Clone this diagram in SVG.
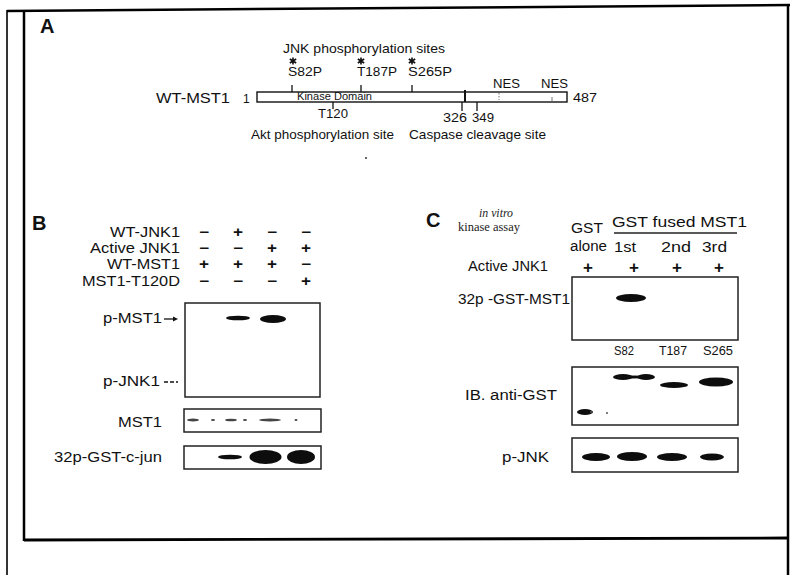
<svg xmlns="http://www.w3.org/2000/svg" width="799" height="575" viewBox="0 0 799 575">
<defs>
<style>
.t{font-family:"Liberation Sans",Arial,sans-serif;fill:#111}
.s{font-family:"Liberation Serif","Times New Roman",serif;fill:#222}
.lbl{font-size:14px}
.sm{font-size:13.5px}
.hd{font-size:20px;font-weight:bold}
.sym{font-size:14px;font-weight:bold;text-anchor:middle}
.box{fill:none;stroke:#222;stroke-width:1.5}
.frm{stroke:#000;fill:none}
.tk{stroke:#111;stroke-width:1.3}
.ast{stroke:#111;stroke-width:1.6;fill:none}
.band{fill:#111;filter:url(#blur)}
.faint{fill:#444;filter:url(#blur)}
</style>
<filter id="blur" x="-20%" y="-50%" width="140%" height="200%"><feGaussianBlur stdDeviation="0.7"/></filter>
<path id="star" d="M0,-3.5 V3.5 M-3.2,-2 L3.2,2 M-3.2,2 L3.2,-2"/>
</defs>
<rect width="799" height="575" fill="#fff"/>

<g id="frame">
<line class="frm" x1="7" y1="11" x2="790" y2="5" stroke-width="2.5"/>
<line class="frm" x1="7" y1="10" x2="7" y2="575" stroke-width="1.6"/>
<line class="frm" x1="24" y1="12" x2="24" y2="541" stroke-width="2.5"/>
<line class="frm" x1="24" y1="540" x2="788" y2="538" stroke-width="2.8"/>
<line class="frm" x1="788" y1="5" x2="788" y2="575" stroke-width="2.5"/>
</g>

<g id="panelA">
<text class="t hd" x="40" y="33">A</text>
<text class="t sm" x="283" y="53" textLength="162" lengthAdjust="spacingAndGlyphs">JNK phosphorylation sites</text>
<use href="#star" class="ast" x="293" y="61"/>
<use href="#star" class="ast" x="361" y="61"/>
<use href="#star" class="ast" x="412" y="61"/>
<text class="t sm" x="288" y="76" textLength="34" lengthAdjust="spacingAndGlyphs">S82P</text>
<text class="t sm" x="357" y="76" textLength="40" lengthAdjust="spacingAndGlyphs">T187P</text>
<text class="t sm" x="408" y="76" textLength="44" lengthAdjust="spacingAndGlyphs">S265P</text>
<text class="t sm" x="493" y="88" textLength="27" lengthAdjust="spacingAndGlyphs">NES</text>
<text class="t sm" x="541" y="88" textLength="27" lengthAdjust="spacingAndGlyphs">NES</text>
<text class="t lbl" x="156" y="103" textLength="74" lengthAdjust="spacingAndGlyphs">WT-MST1</text>
<text class="t" x="243" y="103" font-size="12">1</text>
<text class="t sm" x="573" y="102" textLength="24" lengthAdjust="spacingAndGlyphs">487</text>
<rect x="257" y="92" width="310" height="10" fill="none" stroke="#111" stroke-width="1.4"/>
<text class="t" x="297" y="100" font-size="10" textLength="75" lengthAdjust="spacingAndGlyphs">Kinase Domain</text>
<line class="tk" x1="292" y1="85" x2="292" y2="92"/>
<line class="tk" x1="361" y1="85" x2="361" y2="92"/>
<line class="tk" x1="412" y1="85" x2="412" y2="92"/>
<line x1="465" y1="90" x2="465" y2="102" stroke="#111" stroke-width="2"/>
<line x1="499" y1="93" x2="499" y2="100" stroke="#777" stroke-width="1" stroke-dasharray="1.5,1.5"/>
<line x1="552" y1="97" x2="552" y2="101" stroke="#777" stroke-width="1"/>
<line class="tk" x1="333" y1="102" x2="333" y2="109"/>
<line class="tk" x1="462" y1="102" x2="462" y2="111"/>
<line class="tk" x1="477" y1="102" x2="477" y2="111"/>
<text class="t sm" x="318" y="118" textLength="30" lengthAdjust="spacingAndGlyphs">T120</text>
<text class="t sm" x="443" y="122" textLength="24" lengthAdjust="spacingAndGlyphs">326</text>
<text class="t sm" x="472" y="122" textLength="22" lengthAdjust="spacingAndGlyphs">349</text>
<text class="t sm" x="251" y="139" textLength="143" lengthAdjust="spacingAndGlyphs">Akt phosphorylation site</text>
<text class="t sm" x="409" y="139" textLength="137" lengthAdjust="spacingAndGlyphs">Caspase cleavage site</text>
<circle cx="366" cy="158" r="1" fill="#333"/>
</g>

<g id="panelB">
<text class="t hd" x="32" y="230" font-size="18">B</text>
<text class="t lbl" x="110" y="237" textLength="70" lengthAdjust="spacingAndGlyphs">WT-JNK1</text>
<text class="t lbl" x="90" y="253" textLength="90" lengthAdjust="spacingAndGlyphs">Active JNK1</text>
<text class="t lbl" x="107" y="269" textLength="73" lengthAdjust="spacingAndGlyphs">WT-MST1</text>
<text class="t lbl" x="82" y="286" textLength="98" lengthAdjust="spacingAndGlyphs">MST1-T120D</text>
<g class="t sym">
<text x="204" y="237" textLength="10" lengthAdjust="spacingAndGlyphs">−</text><text x="238" y="237" textLength="10" lengthAdjust="spacingAndGlyphs">+</text><text x="272" y="237" textLength="10" lengthAdjust="spacingAndGlyphs">−</text><text x="306" y="237" textLength="10" lengthAdjust="spacingAndGlyphs">−</text>
<text x="204" y="253" textLength="10" lengthAdjust="spacingAndGlyphs">−</text><text x="238" y="253" textLength="10" lengthAdjust="spacingAndGlyphs">−</text><text x="272" y="253" textLength="10" lengthAdjust="spacingAndGlyphs">+</text><text x="306" y="253" textLength="10" lengthAdjust="spacingAndGlyphs">+</text>
<text x="204" y="269" textLength="10" lengthAdjust="spacingAndGlyphs">+</text><text x="238" y="269" textLength="10" lengthAdjust="spacingAndGlyphs">+</text><text x="272" y="269" textLength="10" lengthAdjust="spacingAndGlyphs">+</text><text x="306" y="269" textLength="10" lengthAdjust="spacingAndGlyphs">−</text>
<text x="204" y="286" textLength="10" lengthAdjust="spacingAndGlyphs">−</text><text x="238" y="286" textLength="10" lengthAdjust="spacingAndGlyphs">−</text><text x="272" y="286" textLength="10" lengthAdjust="spacingAndGlyphs">−</text><text x="306" y="286" textLength="10" lengthAdjust="spacingAndGlyphs">+</text>
</g>
<rect class="box" x="185" y="303" width="135" height="94"/>
<ellipse class="band" cx="238" cy="318" rx="12" ry="2.3"/>
<ellipse class="band" cx="273" cy="319" rx="13" ry="4"/>
<text class="t lbl" x="103" y="323" textLength="59" lengthAdjust="spacingAndGlyphs">p-MST1</text>
<line x1="164" y1="319" x2="175" y2="319" stroke="#111" stroke-width="1.3"/>
<path d="M178,319 L173,316.5 L173,321.5 Z" fill="#111"/>
<text class="t lbl" x="103" y="386" textLength="57" lengthAdjust="spacingAndGlyphs">p-JNK1</text>
<line x1="164" y1="382" x2="178" y2="382" stroke="#111" stroke-width="1.3" stroke-dasharray="4,2"/>
<rect class="box" x="184" y="409" width="137" height="23"/>
<ellipse class="faint" cx="193" cy="420" rx="6" ry="1.5"/>
<ellipse class="faint" cx="213" cy="420" rx="2" ry="1"/>
<ellipse class="faint" cx="231" cy="420" rx="6" ry="1.3"/>
<ellipse class="faint" cx="245" cy="420" rx="2" ry="1"/>
<ellipse class="faint" cx="270" cy="420" rx="11" ry="1.5"/>
<ellipse class="faint" cx="296" cy="420" rx="1.5" ry="1"/>
<text class="t lbl" x="118" y="427" textLength="44" lengthAdjust="spacingAndGlyphs">MST1</text>
<rect class="box" x="184" y="446" width="137" height="23"/>
<ellipse class="band" cx="230" cy="457" rx="12" ry="2.3"/>
<ellipse class="band" cx="265.5" cy="457" rx="16" ry="7"/>
<ellipse class="band" cx="301" cy="457" rx="14" ry="7"/>
<text class="t lbl" x="54" y="462" textLength="108" lengthAdjust="spacingAndGlyphs">32p-GST-c-jun</text>
</g>

<g id="panelC">
<text class="t hd" x="426" y="227" font-size="18">C</text>
<text class="s" x="479" y="217" font-size="12" font-style="italic" textLength="34" lengthAdjust="spacingAndGlyphs">in vitro</text>
<text class="s" x="458" y="231" font-size="12" textLength="62" lengthAdjust="spacingAndGlyphs">kinase assay</text>
<text class="t lbl" x="571" y="233" textLength="32" lengthAdjust="spacingAndGlyphs">GST</text>
<text class="t lbl" x="570" y="251" textLength="37" lengthAdjust="spacingAndGlyphs">alone</text>
<text class="t lbl" x="612" y="227" textLength="135" lengthAdjust="spacingAndGlyphs">GST fused MST1</text>
<line x1="614" y1="233" x2="737" y2="233" stroke="#222" stroke-width="1.3"/>
<text class="t lbl" x="614" y="252" textLength="22" lengthAdjust="spacingAndGlyphs">1st</text>
<text class="t lbl" x="661" y="252" textLength="30" lengthAdjust="spacingAndGlyphs">2nd</text>
<text class="t lbl" x="702" y="252" textLength="25" lengthAdjust="spacingAndGlyphs">3rd</text>
<text class="t lbl" x="468" y="271" textLength="80" lengthAdjust="spacingAndGlyphs">Active JNK1</text>
<g class="t sym">
<text x="588" y="273" style="font-size:17px">+</text><text x="634" y="273" style="font-size:17px">+</text><text x="677" y="273" style="font-size:17px">+</text><text x="719" y="273" style="font-size:17px">+</text>
</g>
<rect class="box" x="572" y="277" width="166" height="63"/>
<ellipse class="band" cx="631" cy="298" rx="15" ry="4"/>
<text class="t lbl" x="458" y="304" textLength="112" lengthAdjust="spacingAndGlyphs">32p -GST-MST1</text>
<text class="t" x="614" y="355" font-size="12.5" textLength="20" lengthAdjust="spacingAndGlyphs">S82</text>
<text class="t" x="659" y="355" font-size="12.5" textLength="28" lengthAdjust="spacingAndGlyphs">T187</text>
<text class="t" x="703" y="355" font-size="12.5" textLength="30" lengthAdjust="spacingAndGlyphs">S265</text>
<rect class="box" x="572" y="367" width="166" height="58"/>
<ellipse class="band" cx="623" cy="377" rx="10" ry="3"/>
<ellipse class="band" cx="634" cy="377" rx="18" ry="1.5"/>
<ellipse class="band" cx="646" cy="377" rx="9" ry="3"/>
<ellipse class="band" cx="674" cy="385" rx="14" ry="3"/>
<ellipse class="band" cx="716" cy="382" rx="17" ry="4.5"/>
<ellipse class="band" cx="585" cy="412" rx="8" ry="3"/>
<circle cx="591" cy="412" r="1" fill="#555"/>
<circle cx="607" cy="413" r="1" fill="#555"/>
<text class="t lbl" x="465" y="400" textLength="92" lengthAdjust="spacingAndGlyphs">IB. anti-GST</text>
<rect class="box" x="572" y="438" width="166" height="34"/>
<ellipse class="band" cx="596" cy="457" rx="14" ry="4"/>
<ellipse class="band" cx="632" cy="456.5" rx="15" ry="4.5"/>
<ellipse class="band" cx="672" cy="457" rx="15" ry="4"/>
<ellipse class="band" cx="712" cy="457" rx="12" ry="3.5"/>
<text class="t lbl" x="502" y="462" textLength="47" lengthAdjust="spacingAndGlyphs">p-JNK</text>
</g>
</svg>
